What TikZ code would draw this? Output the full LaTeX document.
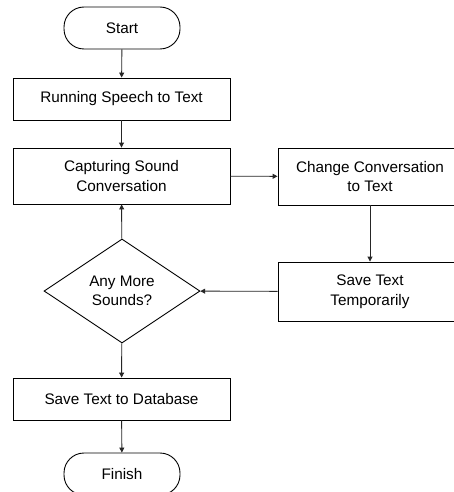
\documentclass[tikz,border=0pt]{standalone}
\usepackage{fontspec}
\setmainfont{Liberation Sans}
\usetikzlibrary{shapes.geometric,arrows.meta}
\begin{document}
\begin{tikzpicture}[x=1pt,y=-1pt,
  every node/.style={font=\fontsize{15.3}{19.5}\selectfont, align=center, text=black},
  procbox/.style={draw=black, line width=0.9pt, rectangle, inner sep=0pt},
  termbox/.style={draw=black, line width=0.9pt, rectangle, rounded corners=20pt, minimum width=116pt, minimum height=42pt, inner sep=0pt},
  decbox/.style={draw=black, line width=0.9pt, diamond, minimum width=156pt, minimum height=104pt, inner sep=0pt},
  conn/.style={draw=black!85, line width=0.9pt, -{Triangle[length=5pt,width=5pt]}}]
\clip (0,0) rectangle (454,492);
\fill[white] (0,0) rectangle (454,492);
\node[termbox] (start) at (122,28) {Start};
\node[procbox, minimum width=217pt, minimum height=42pt] (run) at (121.5,99) {Running Speech to Text};
\node[procbox, minimum width=217pt, minimum height=56pt] (cap) at (121.5,176) {Capturing Sound\\Conversation};
\node[procbox, minimum width=184pt, minimum height=57pt] (chg) at (370,176.5) {Change Conversation\\to Text};
\node[procbox, minimum width=184pt, minimum height=59pt] (sav) at (370,291.5) {Save Text\\Temporarily};
\node[decbox] (dec) at (122,291) {Any More\\Sounds?};
\node[procbox, minimum width=217pt, minimum height=42pt] (db) at (121.5,399) {Save Text to Database};
\node[termbox] (fin) at (122,474) {Finish};
\draw[conn] (start) -- (run);
\draw[conn] (run) -- (cap);
\draw[conn] (cap) -- (chg);
\draw[conn] (chg) -- (sav);
\draw[conn] (sav) -- (dec);
\draw[conn] (dec) -- (cap);
\draw[conn] (dec) -- (db);
\draw[conn] (db) -- (fin);
\end{tikzpicture}
\end{document}
